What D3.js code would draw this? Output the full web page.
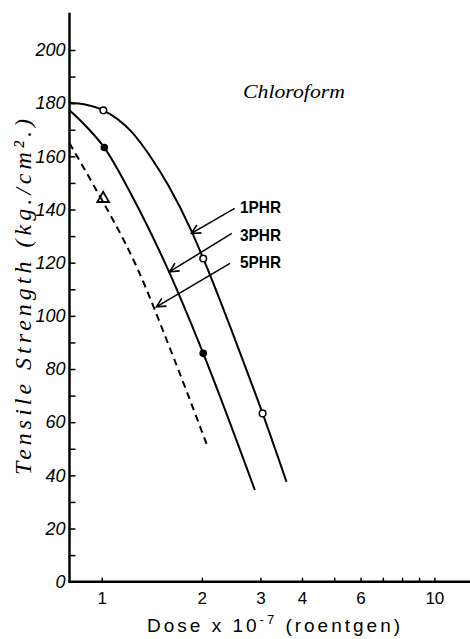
<!DOCTYPE html>
<html>
<head>
<meta charset="utf-8">
<script src="https://cdn.jsdelivr.net/npm/d3@7"></script>
<style>
  body { margin: 0; background: #fff; }
  svg { display: block; }
  .axis text { font-family: "Liberation Sans", sans-serif; fill: #000; }
</style>
</head>
<body>
<svg id="chart" width="470" height="639"></svg>
<script>
// curves: [dose x 1e-7, tensile strength]
const phr1Curve = [[0.8, 180.2], [0.891, 179.5], [1.011, 177.3], [1.23, 169.2], [1.413, 159.2], [1.585, 149.1], [1.863, 131.8], [2.019, 121.6], [2.602, 86.3], [3.045, 63.3], [3.593, 37.6]];
const phr3Curve = [[0.8, 177.3], [0.891, 171.7], [1.018, 163.3], [1.23, 145.4], [1.585, 117.2], [2.019, 85.9], [2.886, 34.5]];
const phr5Curve = [[0.8, 164.9], [0.933, 150.4], [1.274, 118.4], [1.641, 84.6], [2.09, 50.2]];

// measured points
const phr1Points = [[1.011, 177.3], [2.019, 121.6], [3.045, 63.3]];
const phr3Points = [[1.018, 163.3], [2.019, 85.9]];
const phr5Points = [[1.01, 144.1]];

const yTicks = d3.range(0, 201, 10);
const yLabels = [0, 20, 40, 60, 80, 100, 120, 140, 160, 180, 200];
const xTicks = [1, 2, 3, 4, 5, 6, 7, 8, 9, 10];
const xLabels = [1, 2, 3, 4, 6, 10];

// arrows: label, tail point, tip point (data units)
const legendArrows = [
  { label: "1PHR", from: [2.51, 140.4], to: [1.86, 131] },
  { label: "3PHR", from: [2.46, 131], to: [1.6, 116.6] },
  { label: "5PHR", from: [2.43, 119.7], to: [1.46, 103.4] }
];

const svg = d3.select("#chart");

const x = d3.scaleLog().domain([0.8, 12.8]).range([69.5, 470]);
const y = d3.scaleLinear().domain([0, 200]).range([581.7, 50]);

// arrow head
svg.append("defs").append("marker")
  .attr("id", "arrow")
  .attr("viewBox", "-10 -6 12 12")
  .attr("refX", 0).attr("refY", 0)
  .attr("markerWidth", 12).attr("markerHeight", 12)
  .attr("markerUnits", "userSpaceOnUse")
  .attr("orient", "auto")
  .append("path")
  .attr("d", "M-9,-4.5 L0,0 L-9,4.5")
  .attr("fill", "none")
  .attr("stroke", "#000")
  .attr("stroke-width", 1.6);

// y axis
const yAxis = svg.append("g")
  .attr("class", "axis")
  .attr("transform", "translate(69.5,0)")
  .call(d3.axisLeft(y)
    .tickValues(yTicks)
    .tickSizeInner(-6)
    .tickSizeOuter(0)
    .tickPadding(4)
    .tickFormat((d) => (yLabels.includes(d) ? d : "")));
yAxis.select(".domain").remove();
yAxis.selectAll(".tick line").attr("stroke-width", 1.5);
yAxis.selectAll("text")
  .attr("font-size", 18)
  .attr("font-style", "italic");

svg.append("line")
  .attr("x1", 69.5).attr("x2", 69.5)
  .attr("y1", y(214)).attr("y2", y(0) + 1)
  .attr("stroke", "#000").attr("stroke-width", 2.5);

// x axis
const xAxis = svg.append("g")
  .attr("class", "axis")
  .attr("transform", `translate(0,${y(0)})`)
  .call(d3.axisBottom(x)
    .tickValues(xTicks)
    .tickSizeInner(-4)
    .tickSizeOuter(0)
    .tickPadding(10)
    .tickFormat((d) => (xLabels.includes(d) ? d : "")));
xAxis.select(".domain").remove();
xAxis.selectAll(".tick line").attr("stroke-width", 1.5);
xAxis.selectAll("text").attr("font-size", 17);

svg.append("line")
  .attr("x1", 68.5).attr("x2", 470)
  .attr("y1", y(0)).attr("y2", y(0))
  .attr("stroke", "#000").attr("stroke-width", 2.5);

// curves
const line = d3.line()
  .x((d) => x(d[0]))
  .y((d) => y(d[1]))
  .curve(d3.curveMonotoneX);

[[phr1Curve, null], [phr3Curve, null], [phr5Curve, "7,5"]].forEach(([data, dash]) => {
  svg.append("path")
    .datum(data)
    .attr("d", line)
    .attr("fill", "none")
    .attr("stroke", "#000")
    .attr("stroke-width", 2)
    .attr("stroke-dasharray", dash);
});

// markers
svg.selectAll(".open")
  .data(phr1Points)
  .enter()
  .append("circle")
  .attr("cx", (d) => x(d[0]))
  .attr("cy", (d) => y(d[1]))
  .attr("r", 3.3)
  .attr("fill", "#fff")
  .attr("stroke", "#000")
  .attr("stroke-width", 1.5);

svg.selectAll(".filled")
  .data(phr3Points)
  .enter()
  .append("circle")
  .attr("cx", (d) => x(d[0]))
  .attr("cy", (d) => y(d[1]))
  .attr("r", 3.8)
  .attr("fill", "#000");

svg.selectAll(".tri")
  .data(phr5Points)
  .enter()
  .append("path")
  .attr("transform", (d) => `translate(${x(d[0])},${y(d[1])})`)
  .attr("d", d3.symbol(d3.symbolTriangle, 60))
  .attr("fill", "none")
  .attr("stroke", "#000")
  .attr("stroke-width", 1.8);

// legend arrows and labels
legendArrows.forEach((a, i) => {
  svg.append("line")
    .attr("x1", x(a.from[0])).attr("y1", y(a.from[1]))
    .attr("x2", x(a.to[0])).attr("y2", y(a.to[1]))
    .attr("stroke", "#000")
    .attr("stroke-width", 1.5)
    .attr("marker-end", "url(#arrow)");
  svg.append("text")
    .attr("x", 240)
    .attr("y", 213 + i * 27.5)
    .attr("font-family", "Liberation Sans, sans-serif")
    .attr("font-weight", "bold")
    .attr("font-size", 17)
    .attr("textLength", 41)
    .attr("lengthAdjust", "spacingAndGlyphs")
    .text(a.label);
});

svg.append("text")
  .attr("x", 243)
  .attr("y", 98)
  .attr("font-family", "Liberation Serif, serif")
  .attr("font-style", "italic")
  .attr("font-size", 19)
  .attr("textLength", 102)
  .attr("lengthAdjust", "spacingAndGlyphs")
  .text("Chloroform");

// axis titles
svg.append("text")
  .attr("transform", "translate(31,297) rotate(-90)")
  .attr("text-anchor", "middle")
  .attr("font-family", "Liberation Serif, serif")
  .attr("font-style", "italic")
  .attr("font-size", 24)
  .attr("textLength", 356)
  .attr("lengthAdjust", "spacing")
  .text("Tensile Strength (kg./cm².)");

const xt = svg.append("text")
  .attr("x", 147)
  .attr("y", 632)
  .attr("font-family", "Liberation Sans, sans-serif")
  .attr("font-size", 19)
  .attr("letter-spacing", 3);
xt.append("tspan").text("Dose x 10");
xt.append("tspan").attr("dy", -8).attr("font-size", 13).text("-7");
xt.append("tspan").attr("dy", 8).text(" (roentgen)");
</script>
</body>
</html>
